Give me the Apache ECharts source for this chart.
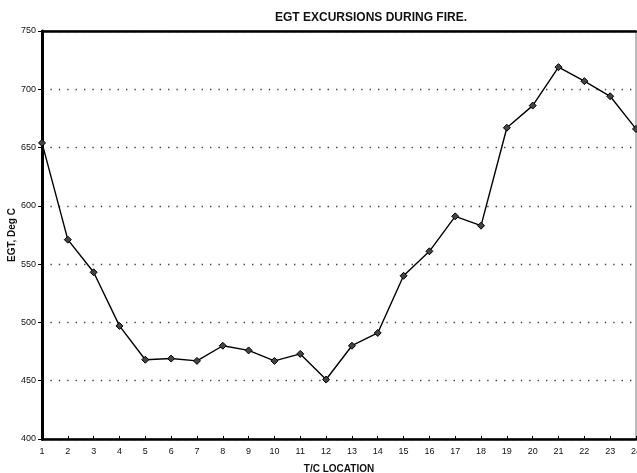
<!DOCTYPE html>
<html>
<head>
<meta charset="utf-8">
<script src="https://cdn.jsdelivr.net/npm/echarts@6/dist/echarts.min.js"></script>
<style>
  html, body { margin: 0; padding: 0; background: #fff; }
  #chart { width: 637px; height: 473px; }
</style>
</head>
<body>
<div id="chart"></div>
<script>
// Thermocouple positions around the turbine exhaust
const locations = ['1','2','3','4','5','6','7','8','9','10','11','12','13','14','15','16','17','18','19','20','21','22','23','24'];
// Exhaust gas temperature at each position, deg C
const egt = [654, 571, 543, 497, 468, 469, 467, 480, 476, 467, 473, 451, 480, 491, 540, 561, 591, 583, 667, 686, 719, 707, 694, 666];
const yTicks = { min: 400, max: 750, step: 50 };

const font = '"Liberation Sans", Arial, sans-serif';
const chart = echarts.init(document.getElementById('chart'), null, { renderer: 'canvas' });

chart.setOption({
  animation: false,
  backgroundColor: '#ffffff',
  title: {
    text: 'EGT EXCURSIONS DURING FIRE.',
    left: 270, top: 7,
    textStyle: { fontFamily: font, fontSize: 12, fontWeight: 'bold', color: '#111' }
  },
  grid: {
    left: 42, right: 1, top: 31, bottom: 34,
    containLabel: false,
    outerBoundsMode: 'none',
    show: true, borderColor: '#777', borderWidth: 1, backgroundColor: 'transparent'
  },
  xAxis: [{
    type: 'category',
    data: locations,
    boundaryGap: false,
    name: 'T/C LOCATION',
    nameLocation: 'middle',
    nameGap: 25,
    nameMoveOverlap: false,
    nameTextStyle: { fontFamily: font, fontSize: 10, fontWeight: 'bold', color: '#111' },
    axisLine: { lineStyle: { color: '#000', width: 2.5 } },
    axisTick: { show: true, inside: true, length: 3, lineStyle: { color: '#000', width: 1 } },
    axisLabel: { fontFamily: font, fontSize: 9, color: '#111', margin: 8, interval: 0, hideOverlap: false },
    splitLine: { show: false }
  }, {
    type: 'category',
    data: locations,
    boundaryGap: false,
    position: 'top',
    axisLine: { lineStyle: { color: '#000', width: 2.5 } },
    axisTick: { show: false },
    axisLabel: { show: false },
    splitLine: { show: false }
  }],
  yAxis: {
    type: 'value',
    min: yTicks.min, max: yTicks.max, interval: yTicks.step,
    name: 'EGT, Deg C',
    nameLocation: 'middle',
    nameGap: 25,
    nameMoveOverlap: false,
    nameTextStyle: { fontFamily: font, fontSize: 10, fontWeight: 'bold', color: '#111' },
    axisLine: { show: true, lineStyle: { color: '#000', width: 3 } },
    axisTick: { show: true, length: 4, lineStyle: { color: '#000', width: 1 } },
    axisLabel: { fontFamily: font, fontSize: 9, color: '#111', margin: 6 },
    splitLine: { show: true, lineStyle: { color: '#444', width: 1.4, type: [1.4, 7] } }
  },
  series: [{
    type: 'line',
    data: egt,
    symbol: 'diamond',
    symbolSize: 7,
    showAllSymbol: true,
    lineStyle: { color: '#000', width: 1.4 },
    itemStyle: { color: '#444', borderColor: '#000', borderWidth: 1 },
    clip: false
  }]
});
</script>
</body>
</html>
